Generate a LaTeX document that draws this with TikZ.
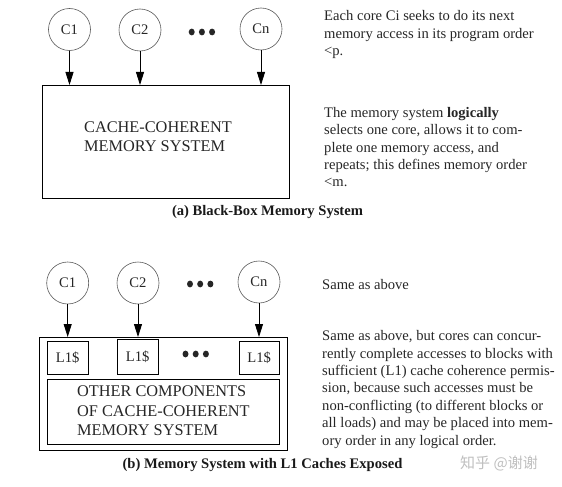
\documentclass[tikz,border=0pt]{standalone}
\usepackage{fontspec}
\setmainfont{Liberation Serif}
\newfontfamily\cjkfont{Noto Sans CJK SC}
\usetikzlibrary{arrows.meta}
\begin{document}
\begin{tikzpicture}[x=1pt,y=-1pt,
  core/.style={circle,draw=black!65,line width=0.6pt,minimum size=42pt,inner sep=0pt,font=\fontsize{14.6}{17.4}\selectfont,text=black!85},
  boxline/.style={draw=black,line width=0.9pt},
  cachebox/.style={boxline,minimum width=40.5pt,minimum height=33pt,inner sep=0pt,font=\fontsize{14.6}{17.4}\selectfont,text=black!85},
  arr/.style={line width=0.8pt,-{Triangle[length=13pt,width=8pt]}},
  dot/.style={fill=black!85,draw=none},
  desc/.style={anchor=base west,inner sep=0pt,align=left,font=\fontsize{14.6}{17.4}\selectfont,text=black!85},
  boxtext/.style={anchor=base west,inner sep=0pt,align=left,font=\fontsize{16.3}{19.3}\selectfont,text=black!85},
  caption/.style={anchor=base,inner sep=0pt,font=\fontsize{14.6}{17.4}\selectfont\bfseries,text=black!90}
]
\useasboundingbox (0,0) rectangle (562,487);
% ---------- (a) ----------
\node[core] (a1) at (69.5,29.5) {C1};
\node[core] (a2) at (140,30) {C2};
\node[core] (an) at (261,29) {Cn};
\fill[dot] (191.7,32) ellipse (3pt and 3.4pt);
\fill[dot] (201.9,32) ellipse (3pt and 3.4pt);
\fill[dot] (212.1,32) ellipse (3pt and 3.4pt);
\node[boxline,anchor=north west,minimum width=247.5pt,minimum height=113.3pt,inner sep=0pt] (boxA) at (41.5,85) {};
\draw[arr] (a1.south) -- (a1.south |- boxA.north);
\draw[arr] (a2.south) -- (a2.south |- boxA.north);
\draw[arr] (an.south) -- (an.south |- boxA.north);
% multi-line nodes: base anchor is the baseline of the last line
\node[boxtext] (boxAtext) at (84,151.6) {CACHE-COHERENT\\MEMORY SYSTEM};
\node[desc] (da1) at (324,55.5) {Each core Ci seeks to do its next\\memory access in its program order\\<p.};
\node[desc] (da2) at (324,186.9) {The memory system \textbf{logically}\\selects one core, allows it to com-\\plete one memory access, and\\repeats; this defines memory order\\<m.};
\node[caption] (capA) at (267.5,215) {(a) Black-Box Memory System};
% ---------- (b) ----------
\node[core] (b1) at (67.7,283) {C1};
\node[core] (b2) at (138,283) {C2};
\node[core] (bn) at (259,282) {Cn};
\fill[dot] (190,284) ellipse (3pt and 3.4pt);
\fill[dot] (200.2,284) ellipse (3pt and 3.4pt);
\fill[dot] (210.4,284) ellipse (3pt and 3.4pt);
\node[boxline,anchor=north west,minimum width=248pt,minimum height=113pt,inner sep=0pt] (boxB) at (39,337) {};
\draw[arr] (b1.south) -- (b1.south |- boxB.north);
\draw[arr] (b2.south) -- (b2.south |- boxB.north);
\draw[arr] (bn.south) -- (bn.south |- boxB.north);
\node[cachebox,anchor=north west] (l1) at (47,340.7) {L1\$};
\node[cachebox,anchor=north west,minimum height=35pt] (l2) at (117,338.5) {L1\$};
\node[cachebox,anchor=north west] (l3) at (238.5,341.2) {L1\$};
\fill[dot] (185.5,354) ellipse (3pt and 3.4pt);
\fill[dot] (195.7,354) ellipse (3pt and 3.4pt);
\fill[dot] (205.9,354) ellipse (3pt and 3.4pt);
\node[boxline,anchor=north west,minimum width=232pt,minimum height=64.7pt,inner sep=0pt] (inner) at (47,379.3) {};
\node[boxtext] (innertext) at (77,435.3) {OTHER COMPONENTS\\OF CACHE-COHERENT\\MEMORY SYSTEM};
\node[desc] (db1) at (322,289.3) {Same as above};
\node[desc] (db2) at (322,445.1) {Same as above, but cores can concur-\\rently complete accesses to blocks with\\sufficient (L1) cache coherence permis-\\sion, because such accesses must be\\non-conflicting (to different blocks or\\all loads) and may be placed into mem-\\ory order in any logical order.};
\node[caption] (capB) at (262.5,468.3) {(b) Memory System with L1 Caches Exposed};
\node[anchor=base west,inner sep=0pt,font=\cjkfont\fontsize{15}{17}\selectfont,text=black!25] (wm) at (460,468.3) {知乎 @谢谢};
\end{tikzpicture}
\end{document}
